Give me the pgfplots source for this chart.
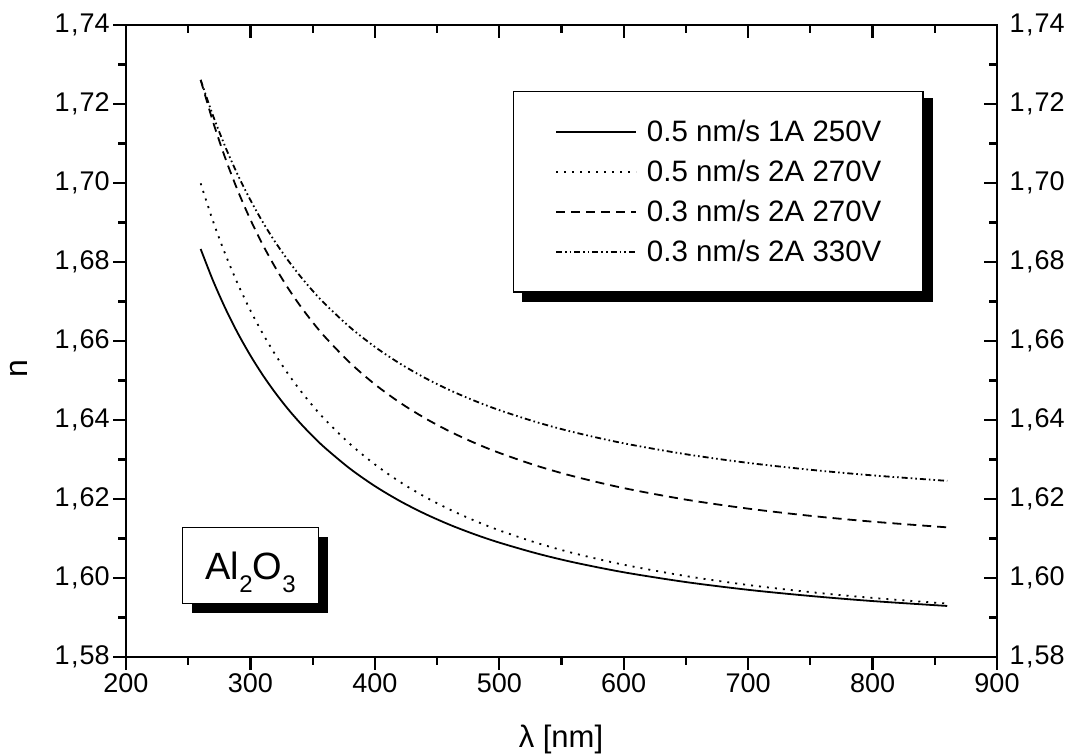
\documentclass[border=0pt]{standalone}
\usepackage{fontspec}
\setmainfont{Liberation Sans}
\usepackage{pgfplots}
\pgfplotsset{compat=1.18}
\usetikzlibrary{shadows}
\begin{document}
\begin{tikzpicture}
\pgfplotsset{
 common/.style={
  scale only axis, width=871pt, height=632pt,
  xmin=200, xmax=900, ymin=1.58, ymax=1.74,
  xtick={200,300,400,500,600,700,800,900},
  ytick={1.58,1.60,1.62,1.64,1.66,1.68,1.70,1.72,1.74},
  minor x tick num=1, minor y tick num=1,
  major tick length=12.7pt, minor tick length=7.7pt,
  every tick/.append style={black, line width=2.2pt},
  axis line style={line width=2.4pt},
  tick label style={font=\fontsize{27}{27}\selectfont},
  /pgf/number format/assume math mode=true,
  yticklabel style={/pgf/number format/fixed, /pgf/number format/fixed zerofill,
    /pgf/number format/precision=2, /pgf/number format/set decimal separator={\kern1.5pt,\kern1pt}},
  xticklabel style={/pgf/number format/fixed, /pgf/number format/precision=0},
 }
}
\begin{axis}[common, name=frame, tick align=inside, xtick pos=right, ytick pos=right,
  yticklabel pos=right, xticklabels={}, yticklabel style={xshift=9pt}]
\end{axis}
\begin{axis}[common, axis x line*=bottom, axis y line*=left, tick align=outside,
  xlabel={λ [nm]}, ylabel={n},
  xlabel style={at={(axis description cs:0.4994,-0.1313)}, anchor=center, font=\fontsize{31}{31}\selectfont},
  ylabel style={at={(axis description cs:-0.1228,0.457)}, anchor=center, font=\fontsize{32}{32}\selectfont},
  legend cell align=left,
  legend image code/.code={\draw[#1] (0pt,0pt) -- (80pt,0pt);},
  legend style={name=leg, at={(axis description cs:0.4443,0.8956)}, anchor=north west,
    draw=black, line width=1.3pt, fill=white, inner xsep=41.5pt, inner ysep=29pt,
    font=\fontsize{29.5}{29.5}\selectfont, row sep=17pt, column sep=10pt,
    nodes={inner sep=0pt}},
]
\addplot[black, line width=1.8pt, no markers, smooth] coordinates {
(260,1.68329)(270,1.67524)(280,1.66816)(290,1.66189)(300,1.65632)(310,1.65134)(320,1.64688)
(330,1.64285)(340,1.63922)(350,1.63593)(360,1.63293)(380,1.62768)(400,1.62327)(420,1.61951)
(440,1.61629)(460,1.61350)(480,1.61108)(500,1.60896)(530,1.60623)(560,1.60395)(600,1.60145)
(650,1.59897)(700,1.59701)(750,1.59545)(800,1.59416)(860,1.59292)};
\addlegendentry{0.5 nm/s 1A 250V}
\addplot[black, line width=1.8pt, no markers, smooth, dash pattern=on 2pt off 6pt] coordinates {
(260,1.69992)(270,1.69028)(280,1.68183)(290,1.67435)(300,1.66773)(310,1.66183)(320,1.65654)
(330,1.65179)(340,1.64751)(350,1.64362)(360,1.64009)(380,1.63393)(400,1.62876)(420,1.62436)
(440,1.62060)(460,1.61736)(480,1.61454)(500,1.61206)(530,1.60890)(560,1.60626)(600,1.60336)
(650,1.60049)(700,1.59823)(750,1.59643)(800,1.59496)(860,1.59352)};
\addlegendentry{0.5 nm/s 2A 270V}
\addplot[black, line width=1.8pt, no markers, smooth, dash pattern=on 9pt off 6pt] coordinates {
(260,1.72610)(270,1.71542)(280,1.70611)(290,1.69793)(300,1.69072)(310,1.68432)(320,1.67861)
(330,1.67350)(340,1.66890)(350,1.66476)(360,1.66100)(380,1.65448)(400,1.64903)(420,1.64443)
(440,1.64051)(460,1.63714)(480,1.63422)(500,1.63168)(530,1.62842)(560,1.62572)(600,1.62276)
(650,1.61984)(700,1.61756)(750,1.61574)(800,1.61426)(860,1.61282)};
\addlegendentry{0.3 nm/s 2A 270V}
\addplot[black, line width=1.8pt, no markers, smooth, dash pattern=on 6pt off 3pt on 1.6pt off 3pt on 1.6pt off 3pt] coordinates {
(260,1.72610)(270,1.71700)(280,1.70901)(290,1.70194)(300,1.69567)(310,1.69006)(320,1.68503)
(330,1.68052)(340,1.67643)(350,1.67272)(360,1.66935)(380,1.66348)(400,1.65852)(420,1.65431)
(440,1.65070)(460,1.64758)(480,1.64488)(500,1.64250)(530,1.63945)(560,1.63690)(600,1.63410)
(650,1.63133)(700,1.62914)(750,1.62740)(800,1.62598)(860,1.62459)};
\addlegendentry{0.3 nm/s 2A 330V}
\node[draw, line width=1.3pt, fill=white, minimum width=136pt, minimum height=76pt,
  anchor=north west, inner sep=0pt,
  drop shadow={shadow xshift=9.5pt, shadow yshift=-9.5pt, opacity=1, fill=black}]
  at (axis description cs:0.0643,0.2057)
  {\raisebox{0pt}[30pt][2pt]{\fontsize{38}{38}\selectfont Al\raisebox{-13pt}{\fontsize{24}{24}\selectfont 2}O\raisebox{-13pt}{\fontsize{24}{24}\selectfont 3}}};
\end{axis}
\fill[black] ([yshift=-7pt]leg.north east) rectangle ([xshift=9pt,yshift=-9pt]leg.south east);
\fill[black] ([xshift=9pt]leg.south west) rectangle ([xshift=9pt,yshift=-9pt]leg.south east);
\pgfresetboundingbox
\path[use as bounding box] (frame.south west) ++(-126pt,-97pt) rectangle ++(1073pt,754pt);
\end{tikzpicture}
\end{document}
